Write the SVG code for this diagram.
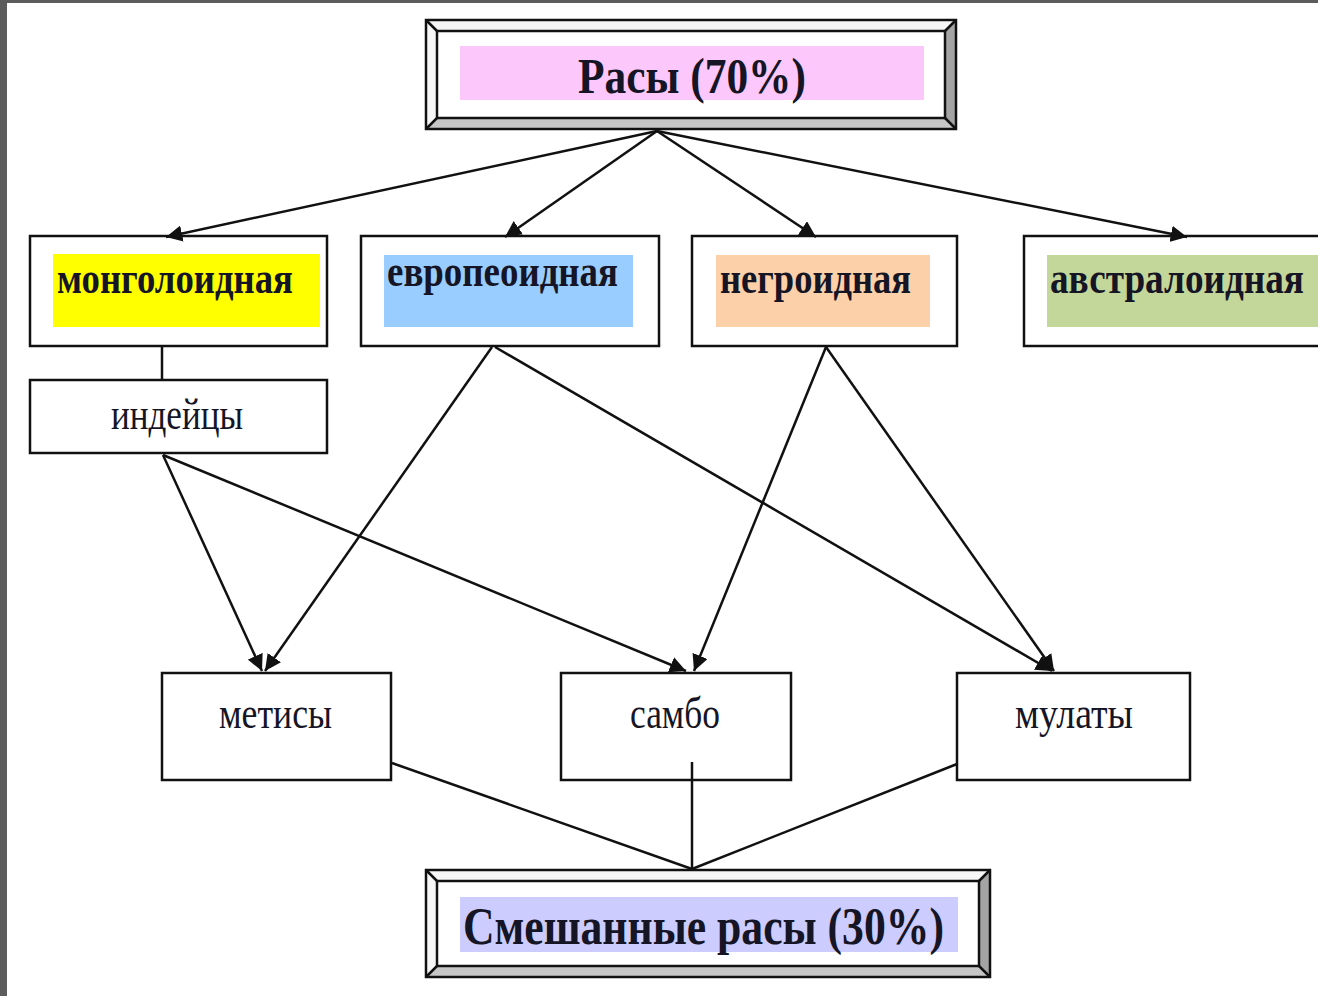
<svg xmlns="http://www.w3.org/2000/svg" width="1318" height="996" viewBox="0 0 1318 996">
<style>
.box{fill:#fff;stroke:#111;stroke-width:2.5}
.t{font-family:"Liberation Serif","Times New Roman",serif;fill:#151525}
.b{font-weight:bold}
.ln{stroke:#111;stroke-width:2.5;fill:none}
.arr{marker-end:url(#ah)}
.edge{stroke:#111;stroke-width:2.5;stroke-linejoin:miter}
</style>
<defs>
<marker id="ah" viewBox="0 0 10 10" refX="10" refY="5" markerWidth="6.5" markerHeight="6.5" markerUnits="strokeWidth" orient="auto">
<path d="M0,0 L10,5 L0,10 z" fill="#111"/>
</marker>
</defs>
<rect x="0" y="0" width="1318" height="996" fill="#fff"/>
<rect x="0" y="0" width="1318" height="3" fill="#5c5c5c"/>
<rect x="0" y="0" width="7" height="996" fill="#5c5c5c"/>

<g id="races">
<polygon points="426,20 956,20 945,31 437,31" fill="#f6f6f6"/>
<polygon points="426,20 437,31 437,118 426,129" fill="#f6f6f6"/>
<polygon points="956,20 956,129 945,118 945,31" fill="#a4a4a4"/>
<polygon points="426,129 437,118 945,118 956,129" fill="#c6c6c6"/>
<path class="edge" d="M426,20 L437,31 M956,20 L945,31 M426,129 L437,118 M956,129 L945,118" stroke-width="1"/>
<rect x="426" y="20" width="530" height="109" fill="none" class="edge"/>
<rect x="437" y="31" width="508" height="87" fill="#fff" class="edge"/>
<rect x="460" y="46" width="464" height="54" fill="#fcc8fc"/>
<text class="t b" x="578" y="93" font-size="50" textLength="228" lengthAdjust="spacingAndGlyphs">Расы (70%)</text>
</g>

<g id="mongoloid">
<rect class="box" x="30" y="236" width="297" height="110"/>
<rect x="53" y="254" width="267" height="73" fill="#ffff00"/>
<text class="t b" x="57" y="293" font-size="44" textLength="236" lengthAdjust="spacingAndGlyphs">монголоидная</text>
</g>

<g id="europeoid">
<rect class="box" x="361" y="236" width="298" height="110"/>
<rect x="384" y="255" width="249" height="72" fill="#99ccff"/>
<text class="t b" x="387" y="286" font-size="44" textLength="231" lengthAdjust="spacingAndGlyphs">европеоидная</text>
</g>

<g id="negroid">
<rect class="box" x="692" y="236" width="265" height="110"/>
<rect x="716" y="255" width="214" height="72" fill="#fcd0a8"/>
<text class="t b" x="720" y="293" font-size="44" textLength="191" lengthAdjust="spacingAndGlyphs">негроидная</text>
</g>

<g id="australoid">
<rect class="box" x="1024" y="236" width="300" height="110"/>
<rect x="1047" y="255" width="271" height="72" fill="#c4d79b"/>
<text class="t b" x="1050" y="293" font-size="44" textLength="254" lengthAdjust="spacingAndGlyphs">австралоидная</text>
</g>

<g id="indians">
<rect class="box" x="30" y="380" width="297" height="73"/>
<text class="t" x="111" y="429" font-size="44" textLength="132" lengthAdjust="spacingAndGlyphs">индейцы</text>
</g>

<g id="mestizo">
<rect class="box" x="162" y="673" width="229" height="107"/>
<text class="t" x="219" y="728" font-size="44" textLength="113" lengthAdjust="spacingAndGlyphs">метисы</text>
</g>

<g id="sambo">
<rect class="box" x="561" y="673" width="230" height="107"/>
<text class="t" x="630" y="728" font-size="44" textLength="90" lengthAdjust="spacingAndGlyphs">самбо</text>
</g>

<g id="mulatto">
<rect class="box" x="957" y="673" width="233" height="107"/>
<text class="t" x="1015" y="728" font-size="44" textLength="118" lengthAdjust="spacingAndGlyphs">мулаты</text>
</g>

<g id="mixed">
<polygon points="426,870 990,870 979,881 437,881" fill="#f6f6f6"/>
<polygon points="426,870 437,881 437,966 426,977" fill="#f6f6f6"/>
<polygon points="990,870 990,977 979,966 979,881" fill="#a4a4a4"/>
<polygon points="426,977 437,966 979,966 990,977" fill="#c6c6c6"/>
<path class="edge" d="M426,870 L437,881 M990,870 L979,881 M426,977 L437,966 M990,977 L979,966" stroke-width="1"/>
<rect x="426" y="870" width="564" height="107" fill="none" class="edge"/>
<rect x="437" y="881" width="542" height="85" fill="#fff" class="edge"/>
<rect x="460" y="897" width="498" height="55" fill="#ccccff"/>
<text class="t b" x="463" y="944" font-size="52" textLength="481" lengthAdjust="spacingAndGlyphs">Смешанные расы (30%)</text>
</g>

<g id="connectors">
<line class="ln arr" x1="657" y1="131" x2="166" y2="237"/>
<line class="ln arr" x1="657" y1="131" x2="505" y2="237"/>
<line class="ln arr" x1="657" y1="131" x2="816" y2="237"/>
<line class="ln arr" x1="657" y1="131" x2="1187" y2="237"/>
<line class="ln" x1="162" y1="347" x2="162" y2="379"/>
<line class="ln arr" x1="163" y1="455" x2="262" y2="671"/>
<line class="ln arr" x1="163" y1="455" x2="686" y2="671"/>
<line class="ln arr" x1="492" y1="347" x2="265" y2="671"/>
<line class="ln arr" x1="495" y1="347" x2="1052" y2="671"/>
<line class="ln arr" x1="826" y1="347" x2="694" y2="671"/>
<line class="ln arr" x1="826" y1="347" x2="1054" y2="671"/>
<line class="ln" x1="392" y1="763" x2="692" y2="869"/>
<line class="ln" x1="692" y1="762" x2="692" y2="869"/>
<line class="ln" x1="957" y1="764" x2="692" y2="869"/>
</g>
</svg>
